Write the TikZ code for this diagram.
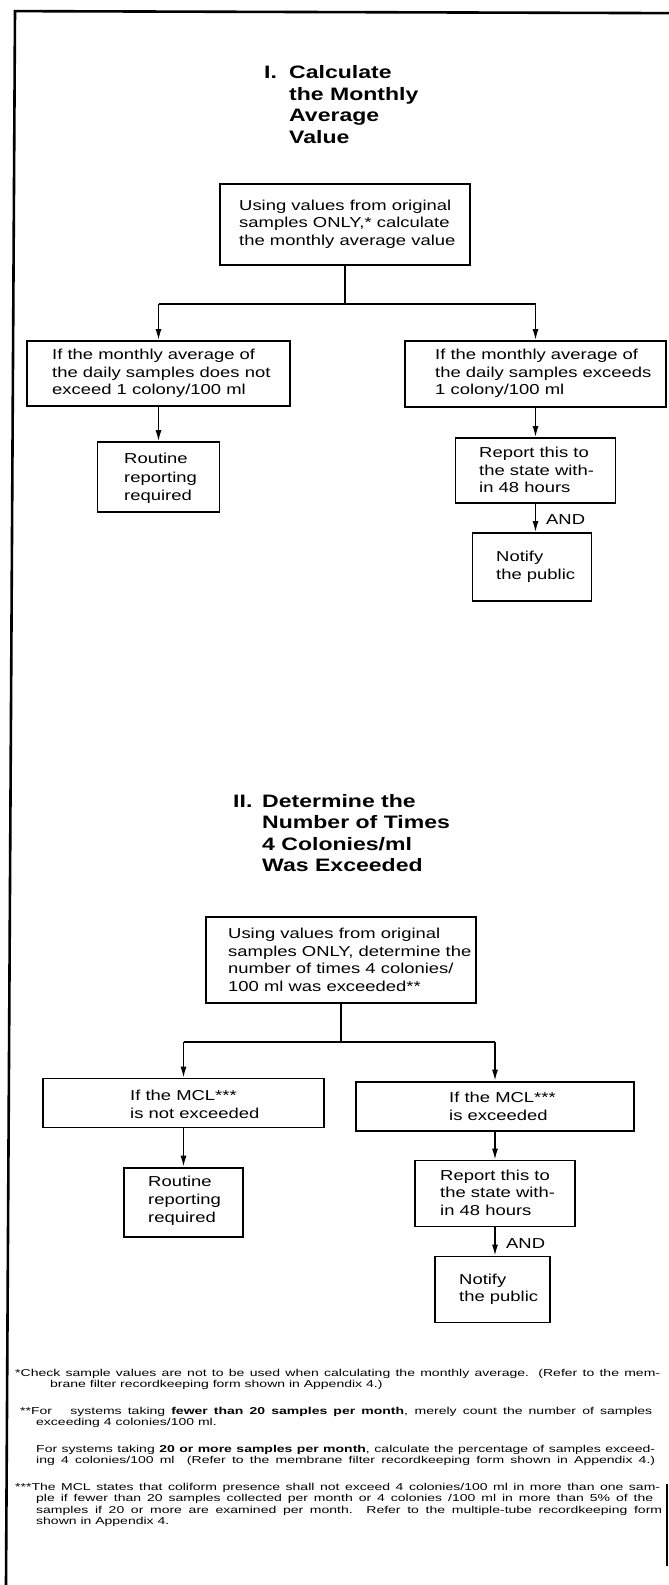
\documentclass[tikz,border=0pt]{standalone}
\usepackage{fontspec}
\setmainfont{Liberation Sans}[FakeStretch=1.28]
\newfontfamily\notefam{Liberation Sans}[FakeStretch=1.4]
\usetikzlibrary{arrows.meta}
\newcommand\boxfont{\fontsize{14.4}{17.5}\selectfont}
\newcommand\titlefont{\fontsize{18}{21.5}\selectfont\bfseries}
\newcommand\notefont{\notefam\fontsize{10}{11.5}\selectfont}
\newcommand\lines[1]{\begin{tabular}[t]{@{}l@{}}#1\end{tabular}}
\begin{document}
\begin{tikzpicture}[x=1pt,y=-1.0106pt,
 frame/.style={line width=2.6pt},
 box/.style={draw, line width=1.8pt, inner sep=0pt},
 conn/.style={line width=1.4pt},
 arr/.style={conn,-{Latex[length=11pt,width=6pt]}},
 txt/.style={anchor=base west, inner sep=0pt, font=\boxfont},
 ttl/.style={anchor=base west, inner sep=0pt, font=\titlefont},
 note/.style={anchor=base west, inner sep=0pt, font=\notefont},
]
\useasboundingbox[fill=white] (0,0) rectangle (669,1568.38);

% frame
\coordinate (ftr) at (669,13);
\coordinate (ftl) at (15,11);
\coordinate (fbl) at (6,1568.38);
\draw[frame] (ftr) -- (ftl) -- (fbl);
\coordinate (rs1) at (667,1468);
\coordinate (rs2) at (667,1550);
\draw[frame] (rs1) -- (rs2);

% ---------- Section I ----------
\node[ttl] (t1n) at (264,78) {I.};
\node[ttl] (t1) at (289,78) {\lines{Calculate\\the Monthly\\Average\\Value}};

\node[box, minimum width=250pt, minimum height=81pt] (b1) at (345,222.5) {};
\node[txt] (b1t) at (239,208) {\lines{Using values from original\\samples ONLY,* calculate\\the monthly average value}};

\node[box, minimum width=263pt, minimum height=65pt] (b2a) at (158.5,369.5) {};
\node[txt] (b2at) at (52,356) {\lines{If the monthly average of\\the daily samples does not\\exceed 1 colony/100 ml}};

\node[box, minimum width=261pt, minimum height=66pt] (b2b) at (535.5,370) {};
\node[txt] (b2bt) at (435,356) {\lines{If the monthly average of\\the daily samples exceeds\\1 colony/100 ml}};

\node[box, minimum width=122pt, minimum height=70pt] (b3a) at (158.5,472) {};
\node[txt, font=\fontsize{14.4}{18.5}\selectfont] (b3at) at (124,459) {\lines{Routine\\reporting\\required}};

\node[box, minimum width=160pt, minimum height=65pt] (b3b) at (535.5,465.5) {};
\node[txt] (b3bt) at (479,453) {\lines{Report this to\\the state with-\\in 48 hours}};

\node[box, minimum width=119pt, minimum height=68pt] (b4b) at (532,561) {};
\node[txt] (b4bt) at (496,556) {\lines{Notify\\the public}};
\node[txt] (and1) at (546,519) {AND};

\coordinate (j1) at (345,301);
\coordinate (j1l) at (158.5,301);
\coordinate (j1r) at (535.5,301);
\draw[conn] (b1.south) -- (j1);
\draw[conn] (j1l) -- (j1r);
\draw[arr] (j1l) -- (b2a.north);
\draw[arr] (j1r) -- (b2b.north);
\draw[arr] (b2a.south) -- (b3a.north);
\draw[arr] (b2b.south) -- (b3b.north);
\draw[arr] (b3b.south) -- (b3b.south |- b4b.north);

% ---------- Section II ----------
\node[ttl] (t2n) at (233,799) {II.};
\node[ttl] (t2) at (262,799) {\lines{Determine the\\Number of Times\\4 Colonies/ml\\Was Exceeded}};

\node[box, minimum width=270pt, minimum height=86pt] (b5) at (341,950) {};
\node[txt] (b5t) at (228,929) {\lines{Using values from original\\samples ONLY, determine the\\number of times 4 colonies/\\100 ml was exceeded**}};

\node[box, minimum width=281pt, minimum height=49pt] (b6a) at (183.5,1091.5) {};
\node[txt] (b6at) at (130,1089) {\lines{If the MCL***\\is not exceeded}};

\node[box, minimum width=278pt, minimum height=49pt] (b6b) at (495,1094.5) {};
\node[txt] (b6bt) at (449,1091) {\lines{If the MCL***\\is exceeded}};

\node[box, minimum width=119pt, minimum height=69pt] (b7a) at (183.5,1189.5) {};
\node[txt, font=\fontsize{14.4}{18}\selectfont] (b7at) at (148,1174) {\lines{Routine\\reporting\\required}};

\node[box, minimum width=160pt, minimum height=66pt] (b7b) at (495,1181) {};
\node[txt] (b7bt) at (440,1168) {\lines{Report this to\\the state with-\\in 48 hours}};

\node[box, minimum width=115pt, minimum height=66pt] (b8b) at (492.5,1276) {};
\node[txt] (b8bt) at (459,1271) {\lines{Notify\\the public}};
\node[txt] (and2) at (506,1235) {AND};

\coordinate (j2) at (341,1031);
\coordinate (j2l) at (183.5,1031);
\coordinate (j2r) at (495,1031);
\draw[conn] (b5.south) -- (j2);
\draw[conn] (j2l) -- (j2r);
\draw[arr] (j2l) -- (b6a.north);
\draw[arr] (j2r) -- (b6b.north);
\draw[arr] (b6a.south) -- (b7a.north);
\draw[arr] (b6b.south) -- (b7b.north);
\draw[arr] (b7b.south) -- (b7b.south |- b8b.north);

% ---------- Footnotes ----------
\node[note] (fn1) at (15,1362) {\lines{\makebox[645pt][s]{*Check sample values are not to be used when calculating the monthly average. (Refer to the mem-}\\\hspace*{35pt}brane filter recordkeeping form shown in Appendix 4.)}};

\node[note] (fn2) at (20,1399.5) {\lines{\makebox[632pt][s]{**For\ \ \ systems taking \textbf{fewer than 20 samples per month}, merely count the number of samples}\\\hspace*{16pt}exceeding 4 colonies/100 ml.}};

\node[note] (fn2b) at (36,1437) {\lines{\makebox[619pt][s]{For systems taking \textbf{20 or more samples per month}, calculate the percentage of samples exceed-}\\\makebox[619pt][s]{ing 4 colonies/100 ml\ \ (Refer to the membrane filter recordkeeping form shown in Appendix 4.)}}};

\node[note] (fn3) at (15,1474.5) {\lines{\makebox[645pt][s]{***The MCL states that coliform presence shall not exceed 4 colonies/100 ml in more than one sam-}\\\hspace*{21pt}\makebox[617pt][s]{ple if fewer than 20 samples collected per month or 4 colonies /100 ml in more than 5\% of the}\\\hspace*{21pt}\makebox[626pt][s]{samples if 20 or more are examined per month. Refer to the multiple-tube recordkeeping form}\\\hspace*{21pt}shown in Appendix 4.}};
\end{tikzpicture}
\end{document}
